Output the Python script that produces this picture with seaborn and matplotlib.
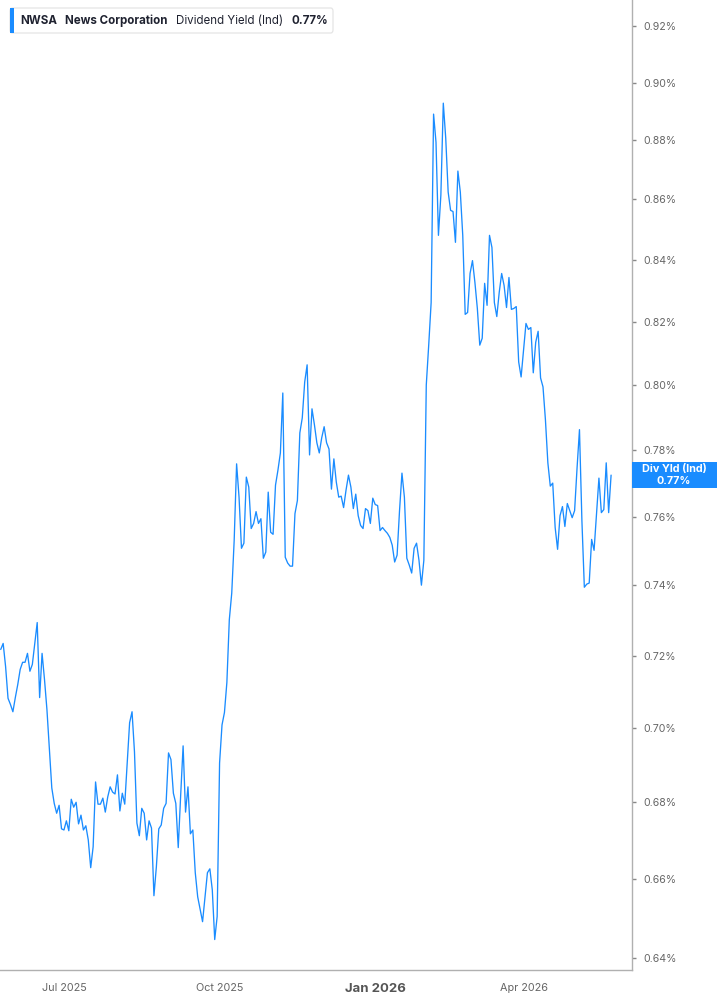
import matplotlib
matplotlib.use("Agg")
import matplotlib.pyplot as plt
import matplotlib.ticker as mticker
from matplotlib.patches import FancyBboxPatch, Rectangle
import seaborn as sns
import pandas as pd

# ============================
# Dados – NWSA Dividend Yield (Ind), %, um valor por pregão
# ============================
start_date = "2025-05-22"
holidays = ["2025-05-26", "2025-06-19", "2025-07-04", "2025-09-01", "2025-11-27",
            "2025-12-25", "2026-01-01", "2026-01-19", "2026-02-16", "2026-04-03"]

# mai/2025 – meados de ago/2025
yld_a = [0.7217, 0.7234, 0.7169, 0.7081, 0.7064, 0.7044, 0.7083, 0.7119, 0.7161, 0.7181,
         0.7181, 0.7206, 0.7156, 0.7175, 0.7234, 0.7293, 0.7083, 0.7206, 0.7133, 0.7050,
         0.6941, 0.6838, 0.6797, 0.6771, 0.6792, 0.6730, 0.6727, 0.6751, 0.6725, 0.6808,
         0.6787, 0.6800, 0.6743, 0.6766, 0.6727, 0.6738, 0.6701, 0.6629, 0.6683, 0.6854,
         0.6795, 0.6795, 0.6811, 0.6774, 0.6814, 0.6841, 0.6827, 0.6822, 0.6873, 0.6777,
         0.6824, 0.6795, 0.6905]
# ago/2025 – out/2025
yld_b = [0.7014, 0.7044, 0.6935, 0.6745, 0.6712, 0.6784, 0.6771, 0.6701, 0.6751, 0.6732,
         0.6557, 0.6631, 0.6730, 0.6740, 0.6784, 0.6797, 0.6932, 0.6914, 0.6824, 0.6797,
         0.6681, 0.6819, 0.6951, 0.6774, 0.6841, 0.6717, 0.6727, 0.6616, 0.6554, 0.6522,
         0.6491, 0.6554, 0.6616, 0.6626, 0.6572, 0.6446, 0.6504, 0.6905, 0.7008, 0.7042,
         0.7125, 0.7301, 0.7377, 0.7530, 0.7758, 0.7658]
# out/2025 – jan/2026
yld_c = [0.7507, 0.7522, 0.7718, 0.7688, 0.7565, 0.7580, 0.7615, 0.7580, 0.7594, 0.7478,
         0.7496, 0.7673, 0.7554, 0.7548, 0.7694, 0.7739, 0.7791, 0.7975, 0.7481, 0.7464,
         0.7455, 0.7455, 0.7609, 0.7648, 0.7852, 0.7898, 0.8009, 0.8063, 0.7785, 0.7926,
         0.7877, 0.7822, 0.7791, 0.7837, 0.7871, 0.7822, 0.7803, 0.7682, 0.7773, 0.7703,
         0.7658, 0.7661, 0.7627, 0.7679, 0.7724, 0.7688, 0.7624, 0.7667, 0.7603, 0.7574,
         0.7565, 0.7624, 0.7618, 0.7580, 0.7655, 0.7636, 0.7633, 0.7559, 0.7568, 0.7559,
         0.7551, 0.7539, 0.7516, 0.7467, 0.7487, 0.7618, 0.7730, 0.7658, 0.7478, 0.7458,
         0.7435, 0.7507, 0.7522, 0.7472, 0.7400, 0.7472]
# jan/2026 – mai/2026
yld_d = [0.8000, 0.8125, 0.8261, 0.8890, 0.8793, 0.8480, 0.8614, 0.8928, 0.8807, 0.8624,
         0.8563, 0.8559, 0.8457, 0.8695, 0.8624, 0.8480, 0.8223, 0.8229, 0.8355, 0.8397,
         0.8326, 0.8242, 0.8125, 0.8147, 0.8323, 0.8252, 0.8480, 0.8440, 0.8261, 0.8216,
         0.8294, 0.8355, 0.8316, 0.8245, 0.8342, 0.8239, 0.8242, 0.8248, 0.8072, 0.8025,
         0.8109, 0.8194, 0.8175, 0.8181, 0.8038, 0.8134, 0.8169, 0.8022, 0.7994, 0.7892,
         0.7761, 0.7691, 0.7700, 0.7568, 0.7504, 0.7603, 0.7630, 0.7571, 0.7639, 0.7618,
         0.7597, 0.7618, 0.7745, 0.7862, 0.7588, 0.7394, 0.7403, 0.7406, 0.7533, 0.7501,
         0.7609, 0.7715, 0.7612, 0.7621, 0.7761, 0.7612, 0.7724]

tick_months = ["2025-07-01", "2025-10-01", "2026-01-01", "2026-04-01"]
tick_labels = ["Jul 2025", "Oct 2025", "Jan 2026", "Apr 2026"]
ytick_vals = [0.64, 0.66, 0.68, 0.70, 0.72, 0.74, 0.76, 0.78, 0.80, 0.82, 0.84, 0.86, 0.88, 0.90, 0.92]

yld = yld_a + yld_b + yld_c + yld_d
dates = pd.bdate_range(start=start_date, periods=len(yld), freq="C", holidays=holidays)
df = pd.DataFrame({"data": dates, "pos": range(len(dates)), "yield": yld})

# ============================
# Figura
# ============================
sns.set_style("white")
plt.rcParams["font.family"] = ["Inter", "DejaVu Sans"]

W, H = 717, 1005
blue = "#1a8cff"
fig = plt.figure(figsize=(W / 100, H / 100), dpi=100)
ax = fig.add_axes([0, 1 - 970 / H, 632 / W, 970 / H])

sns.lineplot(data=df, x="pos", y="yield", color=blue, linewidth=0.95, ax=ax)

ax.set_yscale("log")
ax.set_ylim(0.6370, 0.9294)
ax.set_xlim(-0.3, 259.6)
ax.yaxis.set_major_locator(mticker.FixedLocator(ytick_vals))
ax.yaxis.set_minor_locator(mticker.NullLocator())
ax.yaxis.set_major_formatter(mticker.FuncFormatter(lambda v, p: f"{v:.2f}%"))
ax.yaxis.tick_right()
ax.tick_params(axis="y", which="major", length=3, width=1, color="#888888",
               labelcolor="#666666", labelsize=7.6, pad=5, direction="out")

tick_pos = [int(df.loc[df["data"] >= pd.Timestamp(m), "pos"].iloc[0]) for m in tick_months]
ax.set_xticks(tick_pos)
ax.set_xticklabels(tick_labels)
ax.tick_params(axis="x", length=4, width=1, color="#aaaaaa", labelcolor="#666666",
               labelsize=7.8, pad=5, direction="out")
for lbl in ax.get_xticklabels():
    if lbl.get_text().startswith("Jan"):
        lbl.set_fontweight("bold")
        lbl.set_fontsize(9.5)
        lbl.set_color("#555555")

ax.set_xlabel("")
ax.set_ylabel("")
for s in ["top", "left"]:
    ax.spines[s].set_visible(False)
for s in ["right", "bottom"]:
    ax.spines[s].set_color("#b0b0b0")
    ax.spines[s].set_linewidth(1.0)

# ============================
# Caixa de legenda (topo)
# ============================
def fx(px):
    return px / W


def fy(py):
    return 1 - py / H


fig.add_artist(FancyBboxPatch((fx(10), fy(33)), fx(323), 25 / H,
                              boxstyle="round,pad=0,rounding_size=0.003",
                              transform=fig.transFigure, facecolor="white",
                              edgecolor="#e2e2e2", linewidth=0.8))
fig.add_artist(Rectangle((fx(10), fy(33)), fx(4), 25 / H, transform=fig.transFigure,
                         facecolor=blue, edgecolor="none"))
dark = "#1f2230"
fs = 8.3
fig.text(fx(20), fy(21), "NWSA", fontsize=fs, fontweight="bold", color=dark, va="center")
fig.text(fx(65), fy(21), "News Corporation", fontsize=fs, fontweight="bold", color=dark, va="center")
fig.text(fx(176), fy(21), "Dividend Yield (Ind)", fontsize=fs, color=dark, va="center")
fig.text(fx(291), fy(21), f"{yld[-1]:.2f}%", fontsize=fs, fontweight="bold", color=dark, va="center")

# ============================
# Rótulo do último valor (eixo direito)
# ============================
y_disp = ax.transData.transform((0, yld[-1]))[1]
y_fig = fig.transFigure.inverted().transform((0, y_disp))[1]
fig.add_artist(Rectangle((fx(632), y_fig - 13 / H), fx(85), 26 / H, transform=fig.transFigure,
                         facecolor=blue, edgecolor="none"))
fig.text(fx(674), y_fig + 6 / H, "Div Yld (Ind)", fontsize=7.8, fontweight="bold",
         color="white", ha="center", va="center")
fig.text(fx(674), y_fig - 6 / H, f"{yld[-1]:.2f}%", fontsize=7.8, fontweight="bold",
         color="white", ha="center", va="center")

plt.savefig("out.png", dpi=100)
plt.close()
